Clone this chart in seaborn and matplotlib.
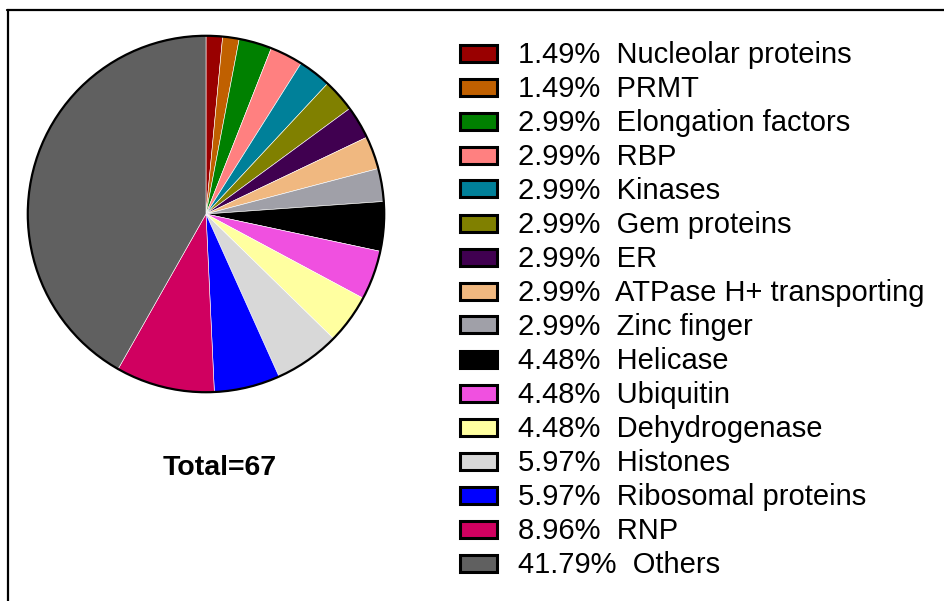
import matplotlib
matplotlib.use("Agg")
import matplotlib.pyplot as plt
from matplotlib.patches import Rectangle, Circle
from matplotlib.lines import Line2D
import seaborn as sns

sns.set_theme(style="white")
plt.rcParams["font.family"] = ["Liberation Sans", "DejaVu Sans"]

categories = [
    "Nucleolar proteins", "PRMT", "Elongation factors", "RBP", "Kinases",
    "Gem proteins", "ER", "ATPase H+ transporting", "Zinc finger", "Helicase",
    "Ubiquitin", "Dehydrogenase", "Histones", "Ribosomal proteins", "RNP", "Others",
]
counts = [1, 1, 2, 2, 2, 2, 2, 2, 2, 3, 3, 3, 4, 4, 6, 28]
percent_labels = [
    "1.49%", "1.49%", "2.99%", "2.99%", "2.99%", "2.99%", "2.99%", "2.99%",
    "2.99%", "4.48%", "4.48%", "4.48%", "5.97%", "5.97%", "8.96%", "41.79%",
]
colors = [
    "#990000", "#C06000", "#008000", "#FF8080", "#008099",
    "#808000", "#400050", "#F0B880", "#A0A0A8", "#000000",
    "#F050E0", "#FFFFA0", "#D8D8D8", "#0000FF", "#D00060", "#606060",
]
total = sum(counts)

W, H = 944, 601
fig = plt.figure(figsize=(W / 100, H / 100), dpi=100)
fig.patch.set_facecolor("white")


def fx(px):
    return px / W


def fy(py):
    return 1 - py / H


# pie
cx, cy, r = 206, 214, 180
ax = fig.add_axes([fx(cx - r), fy(cy + r), 2 * r / W, 2 * r / H])
ax.pie(counts, colors=colors, startangle=90, counterclock=False,
       wedgeprops=dict(edgecolor="white", linewidth=0.4))
ax.add_patch(Circle((0, 0), 1, fill=False, edgecolor="black", linewidth=1.6))
ax.set_xlim(-1.01, 1.01)
ax.set_ylim(-1.01, 1.01)
ax.set_aspect("equal")
ax.axis("off")

fig.text(fx(220), fy(475), f"Total={total}", fontsize=20.5, fontweight="bold",
         ha="center", va="baseline", color="black")

# legend column
row0, step = 53, 34.0
for i, (cat, pct, col) in enumerate(zip(categories, percent_labels, colors)):
    yc = row0 + step * i
    fig.patches.append(Rectangle((fx(460), fy(yc + 8.5)), 37 / W, 17 / H,
                                 transform=fig.transFigure, facecolor=col,
                                 edgecolor="black", linewidth=2.2))
    fig.text(fx(518), fy(yc + 10), f"{pct}  {cat}", fontsize=21,
             ha="left", va="baseline", color="black")

# outer frame
fig.lines.append(Line2D([fx(7), fx(W + 5)], [fy(10), fy(10)],
                        transform=fig.transFigure, color="black", linewidth=1.6))
fig.lines.append(Line2D([fx(8), fx(8)], [fy(10), fy(H + 5)],
                        transform=fig.transFigure, color="black", linewidth=1.6))

fig.savefig("out.png", dpi=100)
